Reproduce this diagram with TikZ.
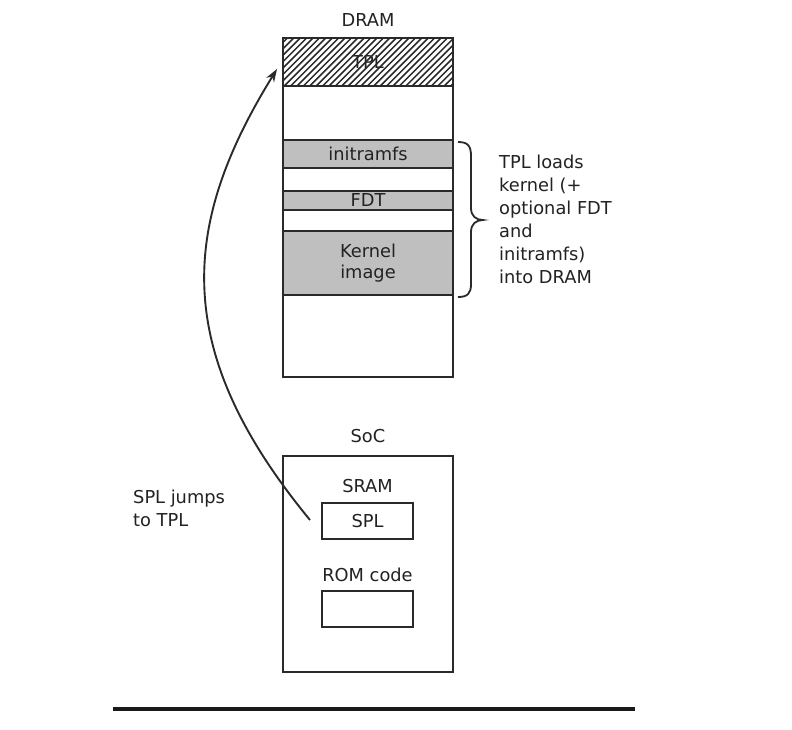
\documentclass[tikz,border=0pt]{standalone}
\usepackage{fontspec}
\setmainfont{DejaVu Sans}
\usetikzlibrary{arrows.meta}
\definecolor{linec}{HTML}{2A2A2A}
\definecolor{bandgray}{HTML}{BFBFBF}
\definecolor{txt}{HTML}{222222}
\begin{document}
\begin{tikzpicture}[x=1pt,y=-1pt,
  box/.style={draw=linec, line width=2.5pt, minimum width=170pt, inner sep=0pt},
  band/.style={draw=linec, line width=2.5pt, fill=bandgray, minimum width=170pt, inner sep=0pt, text=txt, font=\fontsize{17.8}{21}\selectfont, align=center},
  smallbox/.style={draw=linec, line width=2.5pt, minimum width=91pt, minimum height=36pt, inner sep=0pt, text=txt, font=\fontsize{17.8}{21}\selectfont},
  lbl/.style={text=txt, font=\fontsize{17.8}{23}\selectfont, inner sep=0pt},
  hatch/.style={draw=linec, line width=1.5pt},
  arr/.style={draw=linec, line width=1.9pt, -{Stealth[length=13pt,width=9pt]}},
]
\useasboundingbox (0,0) rectangle (792,729);
\fill[white] (0,0) rectangle (792,729);

% DRAM
\node[box, minimum height=339pt] (dram) at (368,207.5) {};
\node[lbl] (dramlbl) at (368,20) {DRAM};
\node[lbl] (tpltext) at (368,62) {TPL};
\begin{scope}
  \clip (283,38) rectangle (453,86);
  \foreach \i in {0,...,34} \draw[hatch] (233+\i*6.4,86) -- ++(48,-48);
\end{scope}
\node[box, minimum height=48pt] (tpl) at (368,62) {};
\node[band, minimum height=28pt] (initramfs) at (368,154) {initramfs};
\node[band, minimum height=19pt] (fdt) at (368,200.5) {FDT};
\node[band, minimum height=64pt] (kernel) at (368,263) {Kernel\\image};

% brace
\draw[draw=linec, line width=1.8pt] (458,142) .. controls (468,142) and (471,146) .. (471,156) -- (471,208) .. controls (471,216) and (476,220) .. (483,220) .. controls (476,220) and (471,224) .. (471,232) -- (471,284) .. controls (471,293) and (468,297) .. (458,297);
\node[lbl, anchor=west, align=left] (loads) at (499,219.5) {TPL loads\\kernel (+\\optional FDT\\and\\initramfs)\\into DRAM};

% SoC
\node[box, minimum height=216pt] (soc) at (368,564) {};
\node[lbl] (soclbl) at (368,436) {SoC};
\node[lbl] (sramlbl) at (367.5,486) {SRAM};
\node[smallbox] (spl) at (367.5,521) {SPL};
\node[lbl] (romlbl) at (367.5,575) {ROM code};
\node[smallbox] (rom) at (367.5,609) {};

% arrow
\coordinate (astart) at (310,520);
\coordinate (aend) at (277,69);
\draw[arr] (astart) .. controls (171,351) and (180,226) .. (aend);
\node[lbl, anchor=west, align=left] (jumps) at (133,508) {SPL jumps\\to TPL};

% bottom line
\draw[draw=black!90, line width=4pt] (113,709) -- (635,709);
\end{tikzpicture}
\end{document}
